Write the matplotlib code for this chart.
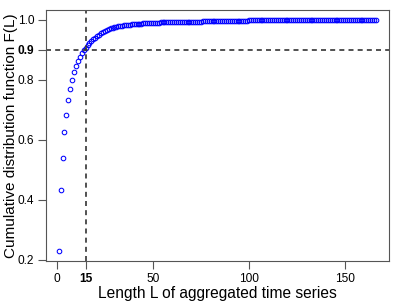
import matplotlib

matplotlib.use("Agg")
import matplotlib.pyplot as plt

plt.rcParams["font.family"] = ["Liberation Sans", "DejaVu Sans"]

# F(L) for L = 1 .. 166
cdf_values = [
    0.228, 0.431, 0.538, 0.626, 0.683, 0.733, 0.768, 0.800, 0.824, 0.845,
    0.862, 0.877, 0.889, 0.898, 0.906, 0.914, 0.921, 0.928, 0.934, 0.940,
    0.945, 0.950, 0.954, 0.958, 0.962, 0.965, 0.968, 0.971, 0.973, 0.975,
    0.977, 0.978, 0.979, 0.980, 0.981, 0.982, 0.983, 0.9835, 0.984, 0.9845,
    0.985, 0.9855, 0.986, 0.9865, 0.987, 0.9875, 0.988, 0.9885, 0.989, 0.9895,
    0.9900, 0.9902, 0.9903, 0.9905, 0.9906, 0.9908, 0.9909, 0.9911, 0.9912, 0.9914,
    0.9915, 0.9917, 0.9918, 0.9920, 0.9921, 0.9923, 0.9924, 0.9926, 0.9927, 0.9929,
    0.9930, 0.9932, 0.9933, 0.9935, 0.9936, 0.9938, 0.9939, 0.9941, 0.9942, 0.9944,
    0.9945, 0.9947, 0.9948, 0.9950, 0.9951, 0.9953, 0.9954, 0.9956, 0.9957, 0.9959,
    0.9960, 0.9961, 0.9962, 0.9963, 0.9964, 0.9965, 0.9966, 0.9967, 0.9968, 0.9970,
    0.9971, 0.9972, 0.9973, 0.9974, 0.9975, 0.9975, 0.9976, 0.9977, 0.9978, 0.9979,
    0.9980, 0.9980, 0.9981, 0.9982, 0.9982, 0.9983, 0.9984, 0.9984, 0.9985, 0.9985,
    0.9986, 0.9986, 0.9987, 0.9987, 0.9988, 0.9988, 0.9989, 0.9989, 0.9990, 0.9990,
    0.9990, 0.9991, 0.9991, 0.9991, 0.9992, 0.9992, 0.9992, 0.9993, 0.9993, 0.9993,
    0.9994, 0.9994, 0.9994, 0.9995, 0.9995, 0.9995, 0.9996, 0.9996, 0.9996, 0.9997,
    0.9997, 0.9997, 0.9997, 0.9998, 0.9998, 0.9998, 0.9998, 0.9999, 0.9999, 0.9999,
    0.9999, 0.9999, 1.0000, 1.0000, 1.0000, 1.0000,
]
lengths = list(range(1, len(cdf_values) + 1))

x_ticks = [0, 15, 50, 100, 150]
x_tick_labels = ["0", "15", "50", "100", "150"]
y_ticks = [0.2, 0.4, 0.6, 0.8, 0.9, 1.0]
y_tick_labels = ["0.2", "0.4", "0.6", "0.8", "0.9", "1.0"]
threshold_length = 15
threshold_cdf = 0.9

fig = plt.figure(figsize=(3.99, 3.08), dpi=100)
ax = fig.add_axes([0.1153, 0.1526, 0.8587, 0.814])

ax.plot(lengths, cdf_values, linestyle="none", marker="o", markersize=3.3,
        markerfacecolor="none", markeredgecolor="blue", markeredgewidth=0.75)
ax.axhline(threshold_cdf, color="#333333", linestyle=(0, (3, 2.5)), linewidth=1.2)
ax.axvline(threshold_length, color="#333333", linestyle=(0, (3, 2.5)), linewidth=1.2)

ax.set_xlim(-5.6, 172.6)
ax.set_ylim(0.196, 1.031)
ax.set_xticks(x_ticks)
ax.set_xticklabels(x_tick_labels)
ax.set_yticks(y_ticks)
ax.set_yticklabels(y_tick_labels)
ax.get_xticklabels()[1].set_fontweight("bold")
ax.get_yticklabels()[4].set_fontweight("bold")
ax.tick_params(direction="out", length=5.5, width=0.8, color="#555555",
               labelsize=8.6, pad=3)

for spine in ax.spines.values():
    spine.set_color("#555555")
    spine.set_linewidth(0.8)

ax.set_xlabel("Length L of aggregated time series", fontsize=11.2, labelpad=1)
ax.set_ylabel("Cumulative distribution function F(L)", fontsize=11)
ax.yaxis.set_label_coords(-0.082, 0.5)

fig.savefig("out.png", dpi=100)
plt.close(fig)
